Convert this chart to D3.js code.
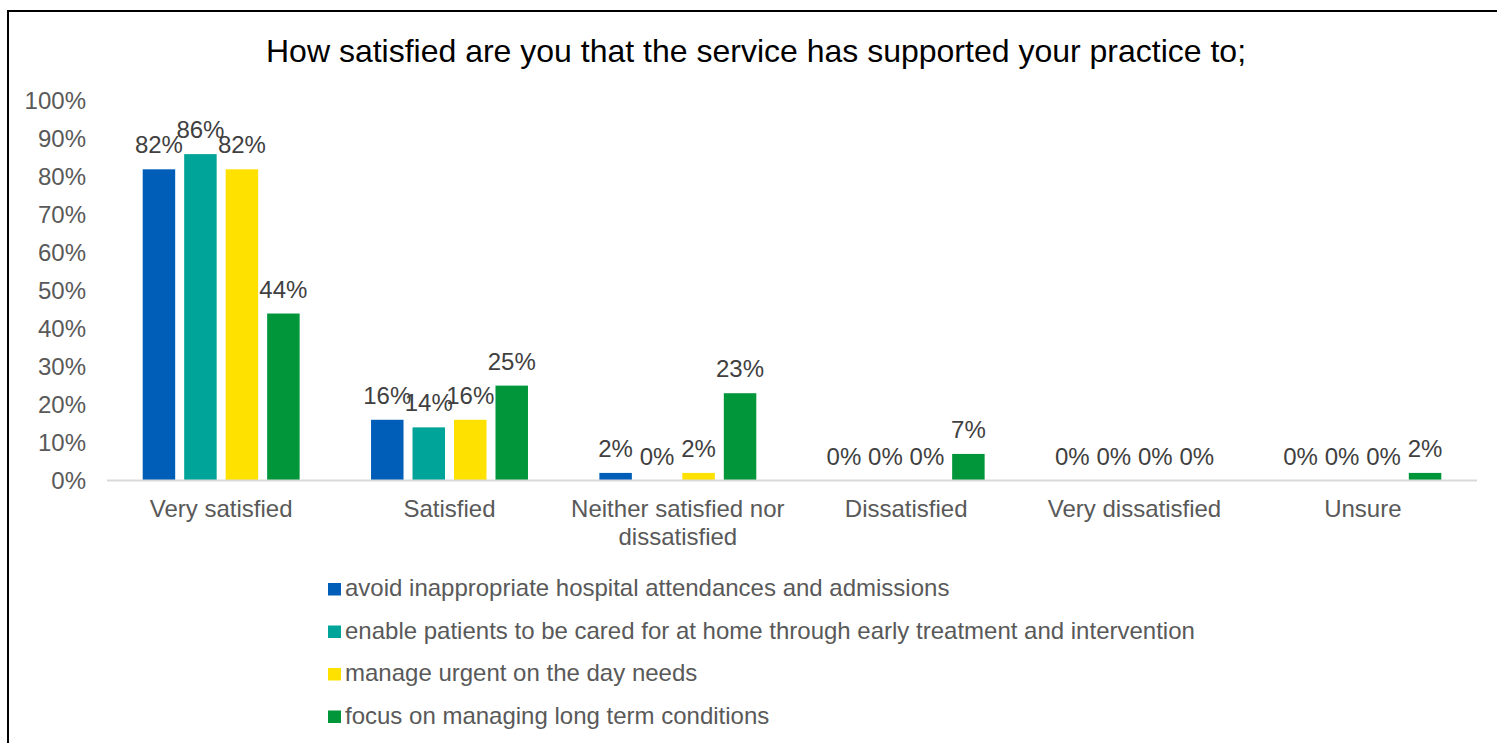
<!DOCTYPE html>
<html>
<head>
<meta charset="utf-8">
<script src="https://cdn.jsdelivr.net/npm/d3@7"></script>
<style>
  html, body { margin: 0; padding: 0; background: #fff; overflow: hidden; }
  svg { display: block; }
  text { font-family: Arial, "Liberation Sans", sans-serif; }
</style>
</head>
<body>
<svg id="chart" width="1497" height="743"></svg>
<script>
// Survey responses, percentage of practices, per statement
const categories = ["Very satisfied", "Satisfied", "Neither satisfied nor dissatisfied", "Dissatisfied", "Very dissatisfied", "Unsure"];
const seriesNames = [
  "avoid inappropriate hospital attendances and admissions",
  "enable patients to be cared for at home through early treatment and intervention",
  "manage urgent on the day needs",
  "focus on managing long term conditions"
];
const avoidAdmissions = [82, 16, 2, 0, 0, 0];
const careAtHome = [86, 14, 0, 0, 0, 0];
const urgentNeeds = [82, 16, 2, 0, 0, 0];
const longTermConditions = [44, 25, 23, 7, 0, 2];
const yTicks = [0, 10, 20, 30, 40, 50, 60, 70, 80, 90, 100];
const seriesColors = ["#005EB8", "#00A499", "#FFE100", "#009639"];

const seriesValues = [avoidAdmissions, careAtHome, urgentNeeds, longTermConditions];

const svg = d3.select("#chart");

// outer frame
svg.append("rect")
  .attr("x", 8).attr("y", 11)
  .attr("width", 1500).attr("height", 745)
  .attr("fill", "#fff").attr("stroke", "#000").attr("stroke-width", 2);

// title
svg.append("text")
  .attr("x", 756).attr("y", 62)
  .attr("text-anchor", "middle")
  .attr("font-size", 32)
  .attr("fill", "#000")
  .text("How satisfied are you that the service has supported your practice to;");

const plot = { left: 107, right: 1477, top: 101, bottom: 480.5 };

const x0 = d3.scaleBand().domain(categories).range([plot.left, plot.right]).padding(0);
const groupPad = 35.7;
const x1 = d3.scaleBand().domain(d3.range(seriesNames.length))
  .range([groupPad, x0.bandwidth() - groupPad]).paddingInner(0.217).paddingOuter(0);
const y = d3.scaleLinear().domain([0, 100]).range([plot.bottom, plot.top]);

// y axis labels
const yAxis = d3.axisLeft(y).tickValues(yTicks).tickFormat(d => d + "%").tickSize(0).tickPadding(0);
const yG = svg.append("g").attr("transform", `translate(${plot.left - 21},0)`).call(yAxis);
yG.select(".domain").remove();
yG.selectAll("text").attr("font-size", 24).attr("fill", "#595959")
  .attr("font-family", "Arial, 'Liberation Sans', sans-serif");

// bars
const groups = svg.append("g").selectAll("g")
  .data(categories)
  .join("g")
  .attr("transform", d => `translate(${x0(d)},0)`);

groups.selectAll("rect")
  .data((c, ci) => seriesValues.map((vals, si) => ({ si, v: vals[ci] })))
  .join("rect")
  .attr("x", d => x1(d.si))
  .attr("width", x1.bandwidth())
  .attr("y", d => y(d.v))
  .attr("height", d => y(0) - y(d.v))
  .attr("fill", d => seriesColors[d.si]);

// value labels
groups.selectAll("text.val")
  .data((c, ci) => seriesValues.map((vals, si) => ({ si, v: vals[ci] })))
  .join("text")
  .attr("class", "val")
  .attr("x", d => x1(d.si) + x1.bandwidth() / 2)
  .attr("y", d => y(d.v) - 16)
  .attr("text-anchor", "middle")
  .attr("font-size", 24)
  .attr("fill", "#404040")
  .text(d => d.v + "%");

// category axis line
svg.append("line")
  .attr("x1", plot.left).attr("x2", plot.right)
  .attr("y1", y(0)).attr("y2", y(0))
  .attr("stroke", "#d9d9d9").attr("stroke-width", 2);

// category labels (wrapped)
const wrapLines = {
  "Neither satisfied nor dissatisfied": ["Neither satisfied nor", "dissatisfied"]
};
const catLabels = svg.append("g").selectAll("text")
  .data(categories)
  .join("text")
  .attr("x", d => x0(d) + x0.bandwidth() / 2)
  .attr("y", 517)
  .attr("text-anchor", "middle")
  .attr("font-size", 24)
  .attr("fill", "#595959");
catLabels.each(function (d) {
  const lines = wrapLines[d] || [d];
  const t = d3.select(this);
  lines.forEach((ln, i) => {
    t.append("tspan")
      .attr("x", x0(d) + x0.bandwidth() / 2)
      .attr("dy", i === 0 ? 0 : 28)
      .text(ln);
  });
});

// legend
const legend = svg.append("g").attr("transform", "translate(328,0)");
const legendRows = [583, 625.5, 668, 710.5];
const items = legend.selectAll("g")
  .data(seriesNames)
  .join("g")
  .attr("transform", (d, i) => `translate(0,${legendRows[i]})`);
items.append("rect")
  .attr("x", 0).attr("y", 0)
  .attr("width", 13).attr("height", 12.5)
  .attr("fill", (d, i) => seriesColors[i]);
items.append("text")
  .attr("x", 17).attr("y", 13)
  .attr("font-size", 24)
  .attr("fill", "#595959")
  .text(d => d);
</script>
</body>
</html>
